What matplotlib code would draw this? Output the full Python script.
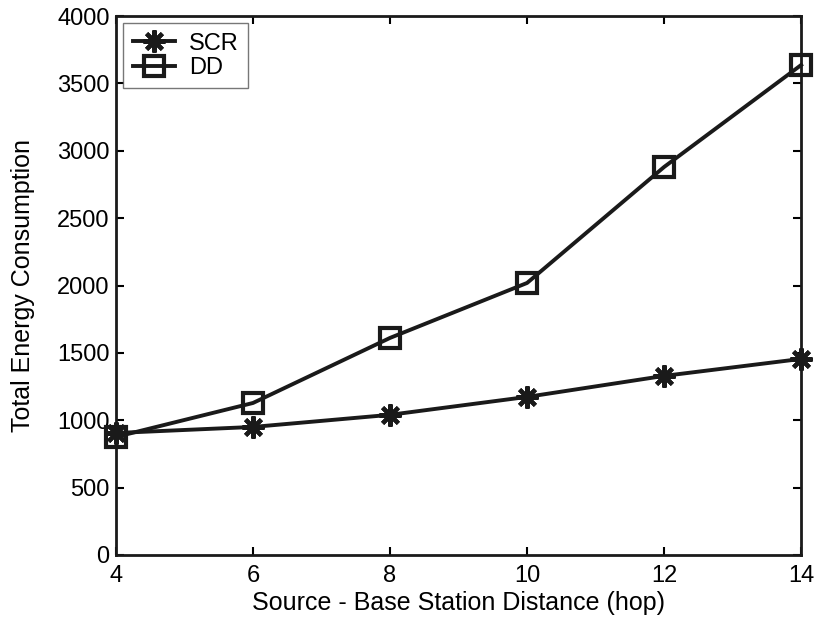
import matplotlib
matplotlib.use("Agg")
import matplotlib.pyplot as plt

plt.rcParams['font.family'] = ['Liberation Sans', 'DejaVu Sans']

hops = [4, 6, 8, 10, 12, 14]
scr = [905, 950, 1040, 1173, 1329, 1455]
dd = [876, 1128, 1611, 2019, 2880, 3637]

fig = plt.figure(figsize=(8.15, 6.2), dpi=100)
ax = fig.add_axes([0.1423, 0.105, 0.8407, 0.869])

ax.plot(hops, scr, color='#1a1a1a', lw=2.8, marker=(8, 2, 0), ms=16, mew=3, label='SCR', clip_on=False, zorder=3)
ax.plot(hops, dd, color='#1a1a1a', lw=2.8, marker='s', ms=14, mew=3, mfc='none', label='DD', clip_on=False, zorder=3)

ax.set_xlim(4, 14)
ax.set_ylim(0, 4000)
ax.set_xticks(hops)
ax.set_yticks(range(0, 4001, 500))
ax.tick_params(direction='in', top=True, right=True, labelsize=17, length=6, width=1.5)
ax.tick_params(axis='x', pad=7.5)
ax.tick_params(axis='y', pad=4.5)
for s in ax.spines.values():
    s.set_linewidth(2)
    s.set_color('#1a1a1a')

ax.set_xlabel('Source - Base Station Distance (hop)', fontsize=18, labelpad=3)
ax.set_ylabel('Total Energy Consumption', fontsize=18, labelpad=16)

leg = ax.legend(loc='upper left', fontsize=17, fancybox=False, edgecolor='#555555',
                handlelength=1.8, borderpad=0.4, labelspacing=0.1, borderaxespad=0.3,
                handletextpad=0.6)
leg.get_frame().set_linewidth(1)

fig.savefig('out.png', dpi=100)
